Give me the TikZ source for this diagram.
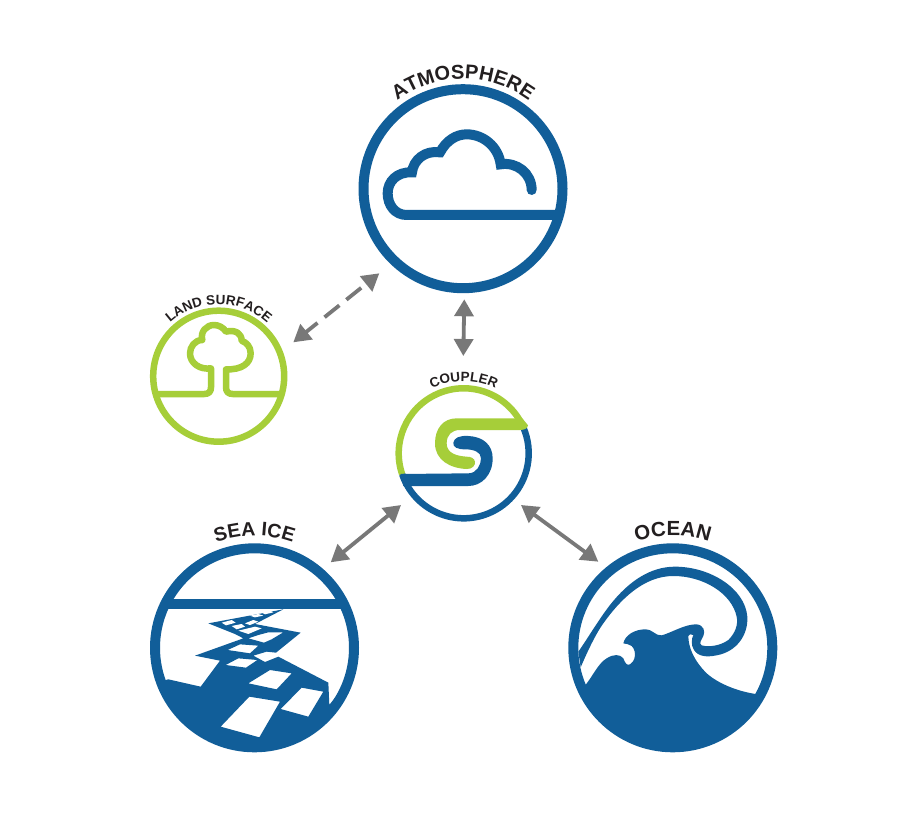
\documentclass[tikz,border=0pt]{standalone}
\usepackage{fontspec}
\setmainfont{Liberation Sans}
\usetikzlibrary{arrows.meta,calc,decorations.text}
\definecolor{cesmblue}{RGB}{17,94,153}
\definecolor{cesmgreen}{RGB}{166,206,57}
\definecolor{linkgray}{RGB}{120,120,120}
\definecolor{labelink}{RGB}{35,31,32}
\tikzset{
  bigring/.style={circle,draw=cesmblue,line width=10pt,minimum size=199pt,inner sep=0pt,outer sep=0pt},
  smallring/.style={circle,line width=6.5pt,minimum size=131pt,inner sep=0pt,outer sep=0pt},
  link/.style={draw=linkgray,line width=3.8pt,{Triangle[length=17pt,width=19pt]}-{Triangle[length=17pt,width=19pt]}},
  strokeblue/.style={draw=cesmblue,line width=10pt},
  strokegreen/.style={draw=cesmgreen,line width=6.5pt,line join=round},
  arclabel/.style n args={2}{decorate,decoration={text along path,text align=center,text color=labelink,
     text={|\bfseries\fontsize{#1}{#1}\selectfont|#2}}}
}
\begin{document}
\begin{tikzpicture}[x=1pt,y=-1pt]
\useasboundingbox[fill=white] (0,0) rectangle (904,826);

% ---- rings
\node[bigring] (atm) at (463,188.7) {};
\node[bigring] (ice) at (254.5,647.8) {};
\node[bigring] (ocean) at (672.8,647.8) {};
\node[smallring,draw=cesmgreen] (land) at (218.7,376.2) {};
\node[smallring] (coup) at (463.7,453.3) {};

% ---- cloud
\begin{scope}[shift={(350,65)},scale=0.33333]
\draw[strokeblue,line cap=round,line join=miter]
  (620,450) -- (170,450) .. controls (135,450) and (113,420) .. (113,385)
  .. controls (113,350) and (140,320) .. (186,322)
  .. controls (190,285) and (225,255) .. (270,262)
  .. controls (290,225) and (320,208) .. (350,208)
  .. controls (400,208) and (445,245) .. (452,298)
  .. controls (500,290) and (545,325) .. (545,375);
\end{scope}

% ---- tree and ground
\begin{scope}[shift={(140,290)},scale=0.33333]
\draw[strokegreen]
  (425,312) -- (278,312) .. controls (265,312) and (258,305) .. (258,292) -- (258,238)
  .. controls (305,240) and (332,220) .. (332,190)
  .. controls (332,170) and (320,158) .. (305,152)
  .. controls (305,130) and (285,118) .. (258,125)
  .. controls (250,112) and (235,105) .. (222,105)
  .. controls (200,105) and (180,125) .. (187,150)
  .. controls (165,150) and (150,170) .. (150,190)
  .. controls (150,220) and (180,240) .. (213,235)
  -- (213,292) .. controls (213,305) and (206,312) .. (193,312) -- (50,312);
\end{scope}

% ---- coupler
\draw[cesmgreen,line width=6.5pt] ([shift={(coup.center)}]-24:65) arc[start angle=-24,end angle=-199,radius=65];
\draw[cesmblue,line width=6.5pt] ([shift={(coup.center)}]-199:65) arc[start angle=-199,end angle=-384,radius=65];
\begin{scope}[shift={(385,360)},scale=0.33333]
\fill[cesmgreen] (412,175) -- (215,175) .. controls (175,175) and (150,205) .. (150,250)
  .. controls (150,300) and (195,325) .. (245,327)
  .. controls (262,328) and (272,315) .. (270,305)
  .. controls (268,295) and (258,290) .. (245,290)
  .. controls (215,288) and (185,280) .. (185,250)
  .. controls (185,225) and (200,210) .. (225,210)
  -- (405,210) .. controls (418,210) and (428,205) .. (429,196) -- cycle;
\fill[cesmblue] (46,342) -- (250,340)
  .. controls (275,340) and (288,315) .. (288,295)
  .. controls (288,275) and (265,268) .. (240,268)
  .. controls (218,268) and (203,262) .. (205,248)
  .. controls (207,233) and (225,226) .. (250,228)
  .. controls (295,230) and (323,255) .. (323,295)
  .. controls (323,345) and (290,378) .. (250,378)
  -- (80,378) -- (55,378) -- cycle;
\end{scope}

% ---- sea ice
\begin{scope}
\clip (ice.center) circle[radius=100];
\begin{scope}[shift={(140,510)},scale=0.33333]
\fill[cesmblue] (40,268) rectangle (650,298);
\fill[cesmblue,even odd rule]
  (20,525) -- (85,508) -- (182,530) -- (240,452) -- (165,437) -- (310,385) -- (285,372) -- (205,340)
  -- (430,298) -- (345,342) -- (482,368) -- (408,428) -- (380,425) -- (340,437) -- (375,456) -- (415,440)
  -- (565,518) -- (568,585) -- (620,520) -- (660,800) -- (20,800) -- cycle
  (328,560) -- (420,575) -- (358,682) -- (242,650) -- cycle
  (485,533) -- (550,545) -- (505,620) -- (422,597) -- cycle
  (390,480) -- (455,490) -- (410,538) -- (325,520) -- cycle
  (295,445) -- (352,450) -- (318,473) -- (257,465) -- cycle
  (300,403) -- (355,407) -- (330,430) -- (263,420) -- cycle
  (325,385) -- (355,375) -- (385,367) -- (430,367) -- (395,388) -- (372,398) -- cycle;
\end{scope}
\begin{scope}[shift={(190,600)},scale=0.33333]
\fill[white] (95,68) -- (125,60) -- (137,68) -- (108,76) -- cycle
  (125,78) -- (155,72) -- (165,80) -- (140,88) -- cycle
  (145,92) -- (195,80) -- (215,85) -- (175,102) -- cycle
  (165,70) -- (190,60) -- (205,65) -- (180,75) -- cycle
  (180,47) -- (205,42) -- (220,47) -- (195,52) -- cycle
  (215,38) -- (240,32) -- (250,37) -- (225,43) -- cycle;
\end{scope}
\end{scope}

% ---- ocean
\begin{scope}
\clip (ocean.center) circle[radius=100];
\begin{scope}[shift={(560,510)},scale=0.33333]
\fill[cesmblue]
  (78,523) .. controls (100,495) and (115,460) .. (140,445)
  .. controls (160,432) and (180,432) .. (190,445)
  .. controls (195,458) and (200,468) .. (210,463)
  .. controls (225,455) and (232,425) .. (215,408)
  .. controls (208,402) and (198,402) .. (190,400)
  .. controls (195,375) and (225,358) .. (255,358)
  .. controls (280,358) and (285,378) .. (305,376)
  .. controls (335,368) and (375,342) .. (410,343)
  .. controls (432,345) and (436,365) .. (430,378)
  .. controls (425,390) and (415,400) .. (425,406)
  .. controls (445,412) and (480,408) .. (505,390)
  .. controls (525,370) and (535,345) .. (530,320)
  .. controls (515,250) and (430,198) .. (340,198)
  .. controls (250,198) and (180,270) .. (130,340)
  .. controls (105,375) and (80,430) .. (62,472)
  -- (55,425)
  .. controls (80,390) and (115,330) .. (150,285)
  .. controls (205,215) and (270,170) .. (345,170)
  .. controls (450,170) and (555,235) .. (562,320)
  .. controls (565,375) and (530,425) .. (470,436)
  .. controls (440,442) and (415,440) .. (402,420)
  .. controls (392,405) and (395,385) .. (400,375)
  -- (390,373) -- (385,378)
  .. controls (385,410) and (400,450) .. (440,490)
  .. controls (480,525) and (540,545) .. (587,552)
  -- (700,600) -- (700,800) -- (0,800) -- (0,560) -- cycle;
\end{scope}
\end{scope}

% ---- connectors
\draw[link] ($(coup)+(-0.4,-97.3)$) -- ($(atm)+(1.3,110.6)$);
\draw[link,dash pattern=on 19pt off 9pt,dash phase=4pt] ($(land)+(74.6,-33.9)$) -- ($(atm)+(-83.7,84.6)$);
\draw[link] ($(coup)+(-62.7,51.7)$) -- ($(ice)+(76.2,-85.5)$);
\draw[link] ($(coup)+(57.3,51.7)$) -- ($(ocean)+(-74.5,-86.1)$);

% ---- labels
\path[arclabel={20}{ATMOSPHERE}] ([shift={(atm.center)}]-160:110) arc[start angle=-160,end angle=-20,radius=110];
\path[arclabel={19.5}{SEA ICE}] ([shift={(ice.center)}]-160:112) arc[start angle=-160,end angle=-20,radius=112];
\path[arclabel={20.5}{OCEAN}] ([shift={(ocean.center)}]-160:112) arc[start angle=-160,end angle=-20,radius=112];
\path[arclabel={13.5}{COUPLER}] ([shift={(coup.center)}]-160:72) arc[start angle=-160,end angle=-20,radius=72];
\path[arclabel={13.5}{LAND SURFACE}] ([shift={(land.center)}]-160:72) arc[start angle=-160,end angle=-20,radius=72];
\end{tikzpicture}
\end{document}
